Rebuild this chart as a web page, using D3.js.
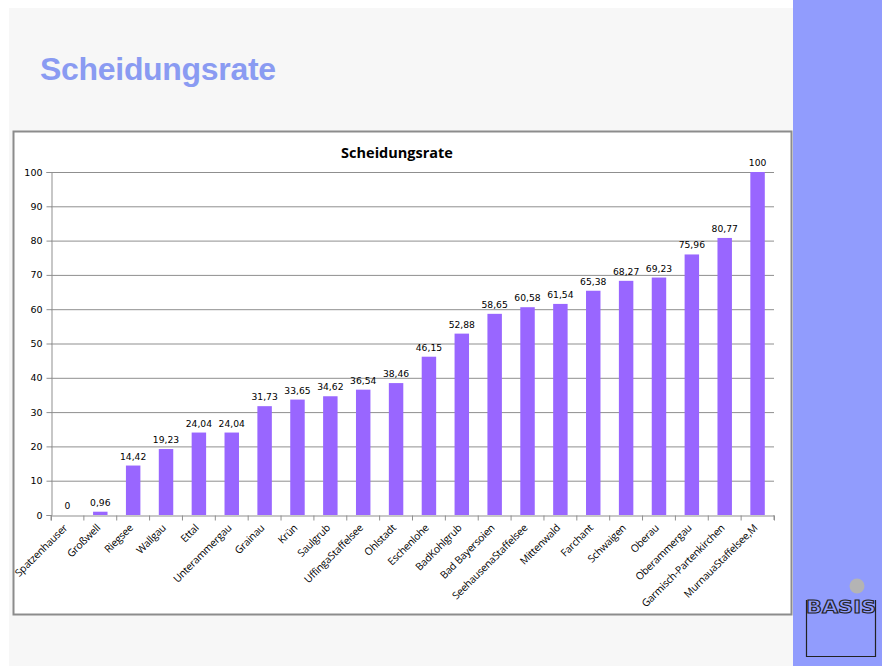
<!DOCTYPE html>
<html><head><meta charset="utf-8">
<script src="https://cdn.jsdelivr.net/npm/d3@7"></script>
<style>body{margin:0;background:#fff}svg{display:block}</style>
</head><body>
<svg id="c" width="882" height="666"></svg>
<script>
const categories = ["Spatzenhauser","Großwell","Riegsee","Wallgau","Ettal","Unterammergau","Grainau","Krün","Saulgrub","UffingaStaffelsee","Ohlstadt","Eschenlohe","BadKohlgrub","Bad Bayersoien","SeehausenaStaffelsee","Mittenwald","Farchant","Schwaigen","Oberau","Oberammergau","Garmisch-Partenkirchen","MurnauaStaffelsee,M"];
const values = [0,0.96,14.42,19.23,24.04,24.04,31.73,33.65,34.62,36.54,38.46,46.15,52.88,58.65,60.58,61.54,65.38,68.27,69.23,75.96,80.77,100];
const valueLabels = ["0","0,96","14,42","19,23","24,04","24,04","31,73","33,65","34,62","36,54","38,46","46,15","52,88","58,65","60,58","61,54","65,38","68,27","69,23","75,96","80,77","100"];
const yTicks = [0,10,20,30,40,50,60,70,80,90,100];

const svg = d3.select("#c");
// slide background
svg.append("rect").attr("x",9).attr("y",8).attr("width",784).attr("height",658).attr("fill","#f7f7f7");
svg.append("rect").attr("x",793).attr("y",0).attr("width",89).attr("height",666).attr("fill","#919cfd");
svg.append("text").attr("x",40).attr("y",80).text("Scheidungsrate")
  .attr("font-family","Liberation Sans, Arial, sans-serif").attr("font-weight","bold")
  .attr("font-size",32).attr("fill","#8a9bf2").attr("letter-spacing","-0.3");

// chart box
svg.append("rect").attr("x",13.5).attr("y",131.5).attr("width",778).attr("height",483)
  .attr("fill","#fff").attr("stroke","#8c8c8c").attr("stroke-width",2);
svg.append("text").attr("x",397).attr("y",158).attr("text-anchor","middle").text("Scheidungsrate")
  .attr("font-family","Open Sans, Liberation Sans, sans-serif").attr("font-weight","bold")
  .attr("font-size",14.5).attr("fill","#000");

const x = d3.scaleBand().domain(categories).range([51,774]).paddingInner(0.56).paddingOuter(0.28);
const xb = d3.scaleBand().domain(categories).range([51,774]);
const y = d3.scaleLinear().domain([0,100]).range([515,172]);

// gridlines
svg.append("g").selectAll("line").data(yTicks.slice(1)).join("line")
  .attr("x1",51).attr("x2",774).attr("y1",d=>y(d)+0.5).attr("y2",d=>y(d)+0.5)
  .attr("stroke","#8f8f8f").attr("stroke-width",1);

// y axis
const ya = svg.append("g").attr("transform","translate(51.5,0)")
  .call(d3.axisLeft(y).tickValues(yTicks).tickSize(5).tickPadding(4).tickFormat(d3.format("d")));
ya.select(".domain").attr("stroke","#8f8f8f");
ya.selectAll(".tick line").attr("stroke","#8f8f8f");
ya.selectAll("text").attr("font-family","DejaVu Sans, Verdana, sans-serif").attr("font-size",9.5).attr("fill","#000");

// bars
svg.append("g").selectAll("rect").data(values).join("rect")
  .attr("x",(d,i)=>x(categories[i])).attr("width",x.bandwidth())
  .attr("y",d=>y(d)).attr("height",d=>y(0)-y(d)).attr("fill","#9966ff");

// x axis
const xa = svg.append("g").attr("transform","translate(0,515.5)")
  .call(d3.axisBottom(xb).tickSize(5).tickFormat(""));
xa.select(".domain").attr("stroke","#8f8f8f");
xa.selectAll(".tick line").attr("stroke","#8f8f8f").attr("transform",`translate(${-xb.bandwidth()/2},0)`);
svg.append("line").attr("x1",774).attr("x2",774).attr("y1",515).attr("y2",520).attr("stroke","#8f8f8f");

// category labels
svg.append("g").selectAll("text").data(categories).join("text")
  .attr("transform",d=>`translate(${xb(d)+xb.bandwidth()/2-2},${526}) rotate(-45)`)
  .attr("text-anchor","end").attr("dy","0.35em").text(d=>d)
  .attr("font-family","Open Sans, Liberation Sans, sans-serif").attr("font-size",10.3)
  .attr("letter-spacing","-0.2").attr("fill","#000");

// value labels
svg.append("g").selectAll("text").data(values).join("text")
  .attr("x",(d,i)=>xb(categories[i])+xb.bandwidth()/2)
  .attr("y",d=>y(d)-6).attr("text-anchor","middle").text((d,i)=>valueLabels[i])
  .attr("font-family","DejaVu Sans, Verdana, sans-serif").attr("font-size",9.2).attr("fill","#000");

// logo
const lg = svg.append("g");
lg.append("circle").attr("cx",857).attr("cy",586).attr("r",7.5).attr("fill","#b4b4b4");
lg.append("path").attr("d","M806.5,600 L806.5,656.5 L875.5,656.5 L875.5,600").attr("fill","none").attr("stroke","#222").attr("stroke-width",1.2);
lg.append("text").attr("x",841).attr("y",613).attr("text-anchor","middle").text("BASIS")
  .attr("font-family","DejaVu Sans, sans-serif").attr("font-weight","bold").attr("font-size",17)
  .attr("fill","#919cfd").attr("stroke","#222").attr("stroke-width",1).attr("textLength",70).attr("lengthAdjust","spacingAndGlyphs");
</script>
</body></html>
